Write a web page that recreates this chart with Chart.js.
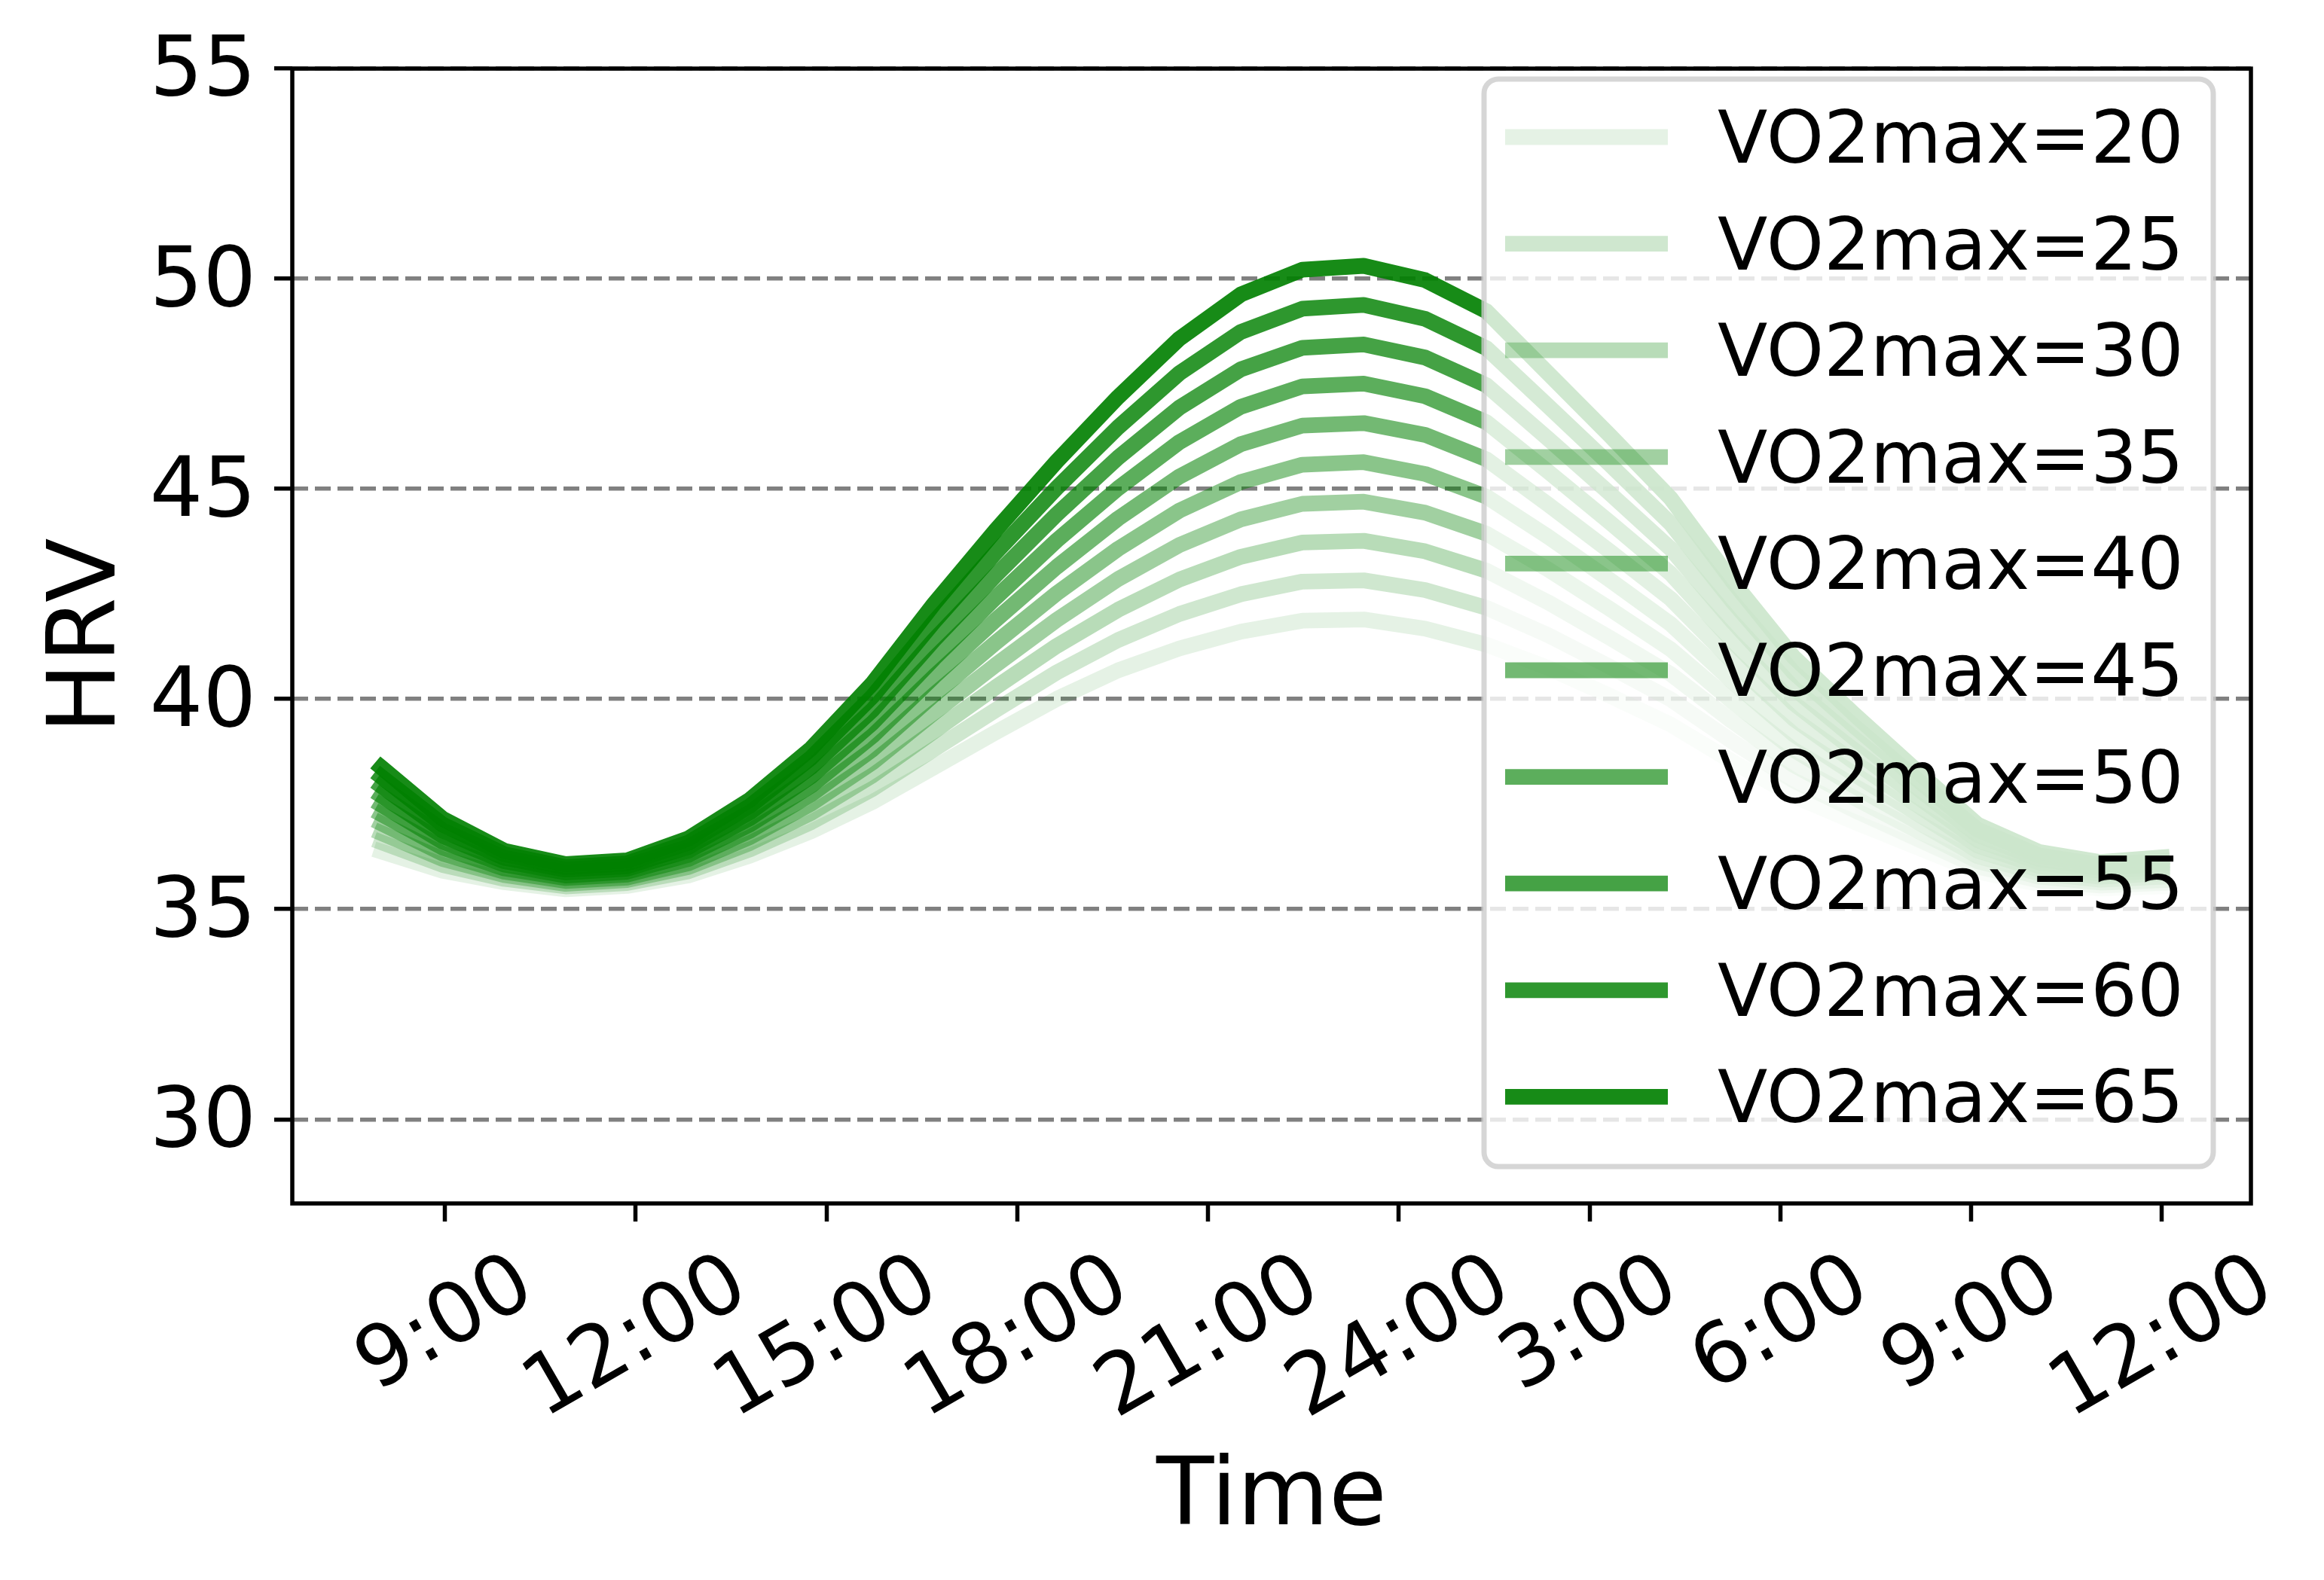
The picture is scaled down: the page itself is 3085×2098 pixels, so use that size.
<!DOCTYPE html>
<html>
<head>
<meta charset="utf-8">
<script src="https://cdn.jsdelivr.net/npm/chart.js@4.4.1/dist/chart.umd.min.js"></script>
<style>
  html, body { margin: 0; padding: 0; background: #ffffff; }
  canvas { display: block; }
</style>
</head>
<body>
<canvas id="c" width="3085" height="2098" style="width:3085px;height:2098px"></canvas>
<script>
// ---------------- data ----------------
const times = [8, 8.966, 9.931, 10.897, 11.862, 12.828, 13.793, 14.759, 15.724, 16.690,
  17.655, 18.621, 19.586, 20.552, 21.517, 22.483, 23.448, 24.414, 25.379, 26.345,
  27.310, 28.276, 29.241, 30.207, 31.172, 32.138, 33.103, 34.069, 35.034, 36];

const vo2Levels = [20, 25, 30, 35, 40, 45, 50, 55, 60, 65];

const hrv20 = [36.37,35.91,35.64,35.47,35.55,35.80,36.27,36.85,37.55,38.37,39.20,40.00,40.68,41.20,41.60,41.86,41.89,41.67,41.29,40.74,40.08,39.39,38.51,37.69,37.07,36.48,35.89,35.60,35.49,35.54];
const hrv25 = [36.59,36.05,35.72,35.54,35.62,35.90,36.42,37.07,37.86,38.80,39.73,40.63,41.40,42.02,42.49,42.79,42.82,42.59,42.17,41.52,40.77,39.99,38.99,38.06,37.35,36.68,36.01,35.68,35.56,35.62];
const hrv30 = [36.81,36.19,35.81,35.60,35.69,36.00,36.57,37.29,38.18,39.23,40.27,41.26,42.12,42.84,43.38,43.72,43.76,43.51,43.05,42.30,41.46,40.59,39.47,38.43,37.64,36.88,36.14,35.77,35.63,35.69];
const hrv35 = [37.04,36.32,35.89,35.67,35.75,36.09,36.71,37.51,38.49,39.67,40.80,41.88,42.85,43.66,44.27,44.64,44.69,44.43,43.93,43.08,42.15,41.18,39.94,38.79,37.92,37.09,36.26,35.85,35.70,35.77];
const hrv40 = [37.26,36.46,35.97,35.74,35.82,36.19,36.86,37.73,38.80,40.10,41.33,42.51,43.57,44.48,45.16,45.57,45.63,45.35,44.81,43.86,42.84,41.78,40.42,39.16,38.20,37.29,36.39,35.94,35.77,35.85];
const hrv45 = [37.48,36.60,36.06,35.80,35.89,36.29,37.01,37.94,39.12,40.53,41.87,43.14,44.29,45.29,46.06,46.50,46.56,46.28,45.70,44.63,43.52,42.38,40.90,39.53,38.49,37.49,36.51,36.02,35.84,35.92];
const hrv50 = [37.70,36.74,36.14,35.87,35.96,36.39,37.16,38.16,39.43,40.96,42.40,43.77,45.01,46.11,46.95,47.43,47.50,47.20,46.58,45.41,44.21,42.98,41.38,39.90,38.77,37.69,36.64,36.11,35.91,36.00];
const hrv55 = [37.93,36.87,36.22,35.94,36.02,36.48,37.30,38.38,39.74,41.40,42.93,44.39,45.74,46.93,47.84,48.35,48.43,48.12,47.46,46.19,44.90,43.57,41.85,40.26,39.05,37.90,36.76,36.19,35.98,36.08];
const hrv60 = [38.15,37.01,36.31,36.00,36.09,36.58,37.45,38.60,40.06,41.83,43.47,45.02,46.46,47.75,48.73,49.28,49.37,49.04,48.34,46.97,45.59,44.17,42.33,40.63,39.34,38.10,36.89,36.28,36.05,36.15];
const hrv65 = [38.37,37.15,36.39,36.07,36.16,36.68,37.60,38.82,40.37,42.26,44.00,45.65,47.18,48.57,49.62,50.21,50.30,49.96,49.22,47.75,46.28,44.77,42.81,41.00,39.62,38.30,37.01,36.36,36.12,36.23];

const yTickValues = [30, 35, 40, 45, 50, 55];
const xTickValues = [9, 12, 15, 18, 21, 24, 27, 30, 33, 36];
const xTickLabels = ['9:00', '12:00', '15:00', '18:00', '21:00', '24:00', '3:00', '6:00', '9:00', '12:00'];

const seriesValues = [hrv20, hrv25, hrv30, hrv35, hrv40, hrv45, hrv50, hrv55, hrv60, hrv65];

// ---------------- styling ----------------
const FONT = '"DejaVu Sans", "Noto Sans", sans-serif';
function seriesColor(i) {
  const a = 0.1 + 0.09 * i;
  return 'rgba(0,128,0,' + a.toFixed(3) + ')';
}
const LINE_W = 20.8;

const datasets = seriesValues.map((vals, i) => ({
  label: 'VO2max=' + vo2Levels[i],
  data: times.map((t, j) => ({ x: t, y: vals[j] })),
  borderColor: seriesColor(i),
  backgroundColor: seriesColor(i),
  borderWidth: LINE_W,
  borderCapStyle: 'square',
  borderJoinStyle: 'round',
  pointRadius: 0,
  pointHoverRadius: 0,
  tension: 0,
  fill: false,
  order: seriesValues.length - 1 - i
}));

const whiteBg = {
  id: 'whiteBg',
  beforeDraw(chart) {
    const ctx = chart.ctx;
    ctx.save();
    ctx.fillStyle = '#ffffff';
    ctx.fillRect(0, 0, chart.width, chart.height);
    ctx.restore();
  }
};

const overlay = {
  id: 'overlay',
  afterDraw(chart) {
    const ctx = chart.ctx;
    const ca = chart.chartArea;
    // frame (spines)
    ctx.save();
    ctx.strokeStyle = '#000000';
    ctx.lineWidth = 5.5;
    ctx.strokeRect(ca.left, ca.top + 0.5, ca.right - ca.left, ca.bottom - ca.top - 0.5);
    ctx.restore();

    // rotated x tick labels, bbox centred on each tick
    const xs = chart.scales.x;
    ctx.save();
    ctx.font = '111px ' + FONT;
    ctx.fillStyle = '#000000';
    const ang = 30 * Math.PI / 180;
    const lh = 1.164 * 111;
    xTickValues.forEach((v, j) => {
      const label = xTickLabels[j];
      const w = ctx.measureText(label).width;
      const H = w * Math.sin(ang) + lh * Math.cos(ang);
      const cx = xs.getPixelForValue(v) + 2;
      const cy = ca.bottom + 45 + H / 2;
      ctx.save();
      ctx.translate(cx, cy);
      ctx.rotate(-ang);
      ctx.textAlign = 'center';
      ctx.textBaseline = 'middle';
      ctx.fillText(label, 0, 0);
      ctx.restore();
    });
    ctx.restore();

    // legend box
    const L = 1970, T = 105, R = ca.right - 50, B = 1549, rad = 19;
    ctx.save();
    ctx.beginPath();
    ctx.moveTo(L + rad, T);
    ctx.lineTo(R - rad, T);
    ctx.arcTo(R, T, R, T + rad, rad);
    ctx.lineTo(R, B - rad);
    ctx.arcTo(R, B, R - rad, B, rad);
    ctx.lineTo(L + rad, B);
    ctx.arcTo(L, B, L, B - rad, rad);
    ctx.lineTo(L, T + rad);
    ctx.arcTo(L, T, L + rad, T, rad);
    ctx.closePath();
    ctx.fillStyle = 'rgba(255,255,255,0.8)';
    ctx.fill();
    ctx.lineWidth = 7;
    ctx.strokeStyle = 'rgba(204,204,204,0.8)';
    ctx.stroke();

    chart.data.datasets.forEach((ds, i) => {
      const y = 182 + i * 141.6;
      ctx.beginPath();
      ctx.moveTo(1998 + LINE_W / 2, y);
      ctx.lineTo(2214 - LINE_W / 2, y);
      ctx.lineWidth = LINE_W;
      ctx.lineCap = 'square';
      ctx.strokeStyle = ds.borderColor;
      ctx.stroke();
      ctx.font = '97px ' + FONT;
      ctx.fillStyle = '#000000';
      ctx.textAlign = 'left';
      ctx.textBaseline = 'alphabetic';
      ctx.fillText(ds.label, 2280, y + 34);
    });
    ctx.restore();
  }
};

new Chart(document.getElementById('c'), {
  type: 'line',
  data: { datasets: datasets },
  plugins: [whiteBg, overlay],
  options: {
    responsive: false,
    devicePixelRatio: 1,
    animation: false,
    layout: { padding: { top: 90, right: 97, left: 0, bottom: 0 } },
    plugins: {
      legend: { display: false },
      tooltip: { enabled: false },
      title: { display: false }
    },
    scales: {
      x: {
        type: 'linear',
        min: 6.6,
        max: 37.4,
        afterBuildTicks: (s) => { s.ticks = xTickValues.map(v => ({ value: v })); },
        afterFit: (s) => { s.height = 500; },
        grid: {
          display: true,
          drawOnChartArea: false,
          drawTicks: true,
          tickLength: 24,
          tickWidth: 5.5,
          tickColor: '#000000'
        },
        border: { display: false },
        ticks: { display: false, autoSkip: false },
        title: {
          display: true,
          text: 'Time',
          color: '#000000',
          font: { family: FONT, size: 125 },
          padding: { top: 0, bottom: 31 }
        }
      },
      y: {
        type: 'linear',
        min: 28,
        max: 55,
        afterBuildTicks: (s) => { s.ticks = yTickValues.map(v => ({ value: v })); },
        afterFit: (s) => { s.width = 388; },
        grid: {
          display: true,
          drawOnChartArea: true,
          drawTicks: true,
          color: '#808080',
          lineWidth: 5.5,
          tickLength: 24,
          tickWidth: 5.5,
          tickColor: '#000000',
          tickBorderDash: []
        },
        border: { display: false, dash: [21, 9] },
        ticks: {
          color: '#000000',
          font: { family: FONT, size: 111 },
          padding: 24,
          labelOffset: 7,
          autoSkip: false,
          callback: (v) => String(v)
        },
        title: {
          display: true,
          text: 'HRV',
          color: '#000000',
          font: { family: FONT, size: 125 },
          padding: { top: 45, bottom: 0 }
        }
      }
    }
  }
});
</script>
</body>
</html>
